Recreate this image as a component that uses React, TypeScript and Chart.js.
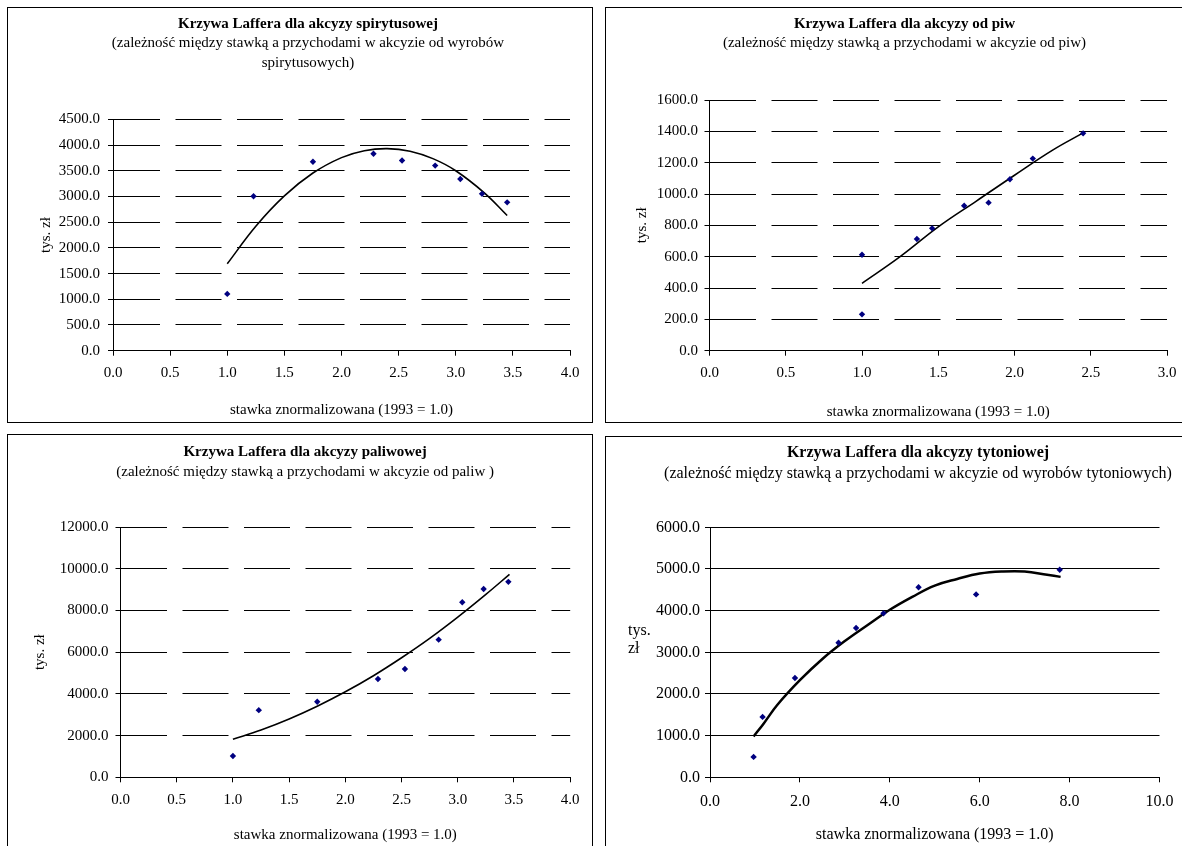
import React, { useEffect, useRef } from 'react';
import { Chart, registerables } from 'chart.js';

Chart.register(...registerables);

const FONT = "'Times New Roman', 'Liberation Serif', serif";
Chart.defaults.font.family = FONT;
Chart.defaults.color = '#000';

// ---------- data ----------
const xAxisTitle = 'stawka znormalizowana (1993 = 1.0)';

// spirits excise
const spirRate = [1.0, 1.23, 1.75, 2.28, 2.53, 2.82, 3.04, 3.23, 3.45];
const spirRevenue = [1105, 3005, 3675, 3830, 3700, 3600, 3340, 3050, 2885];
const spirTrendRate = [1.0, 1.25, 1.5, 1.75, 2.0, 2.2, 2.4, 2.6, 2.8, 3.0, 3.25, 3.45];
const spirTrendRevenue = [1690, 2420, 3010, 3455, 3755, 3890, 3930, 3880, 3735, 3500, 3070, 2630];

// beer excise
const beerRate = [1.0, 1.0, 1.36, 1.46, 1.67, 1.83, 1.97, 2.12, 2.45];
const beerRevenue = [612, 232, 713, 781, 925, 945, 1094, 1226, 1387];
const beerTrendRate = [1.0, 1.25, 1.5, 1.75, 2.0, 2.25, 2.45];
const beerTrendRevenue = [430, 600, 790, 955, 1120, 1280, 1390];

// fuel excise
const fuelRate = [1.0, 1.23, 1.75, 2.29, 2.53, 2.83, 3.04, 3.23, 3.45];
const fuelRevenue = [1020, 3220, 3620, 4710, 5190, 6600, 8390, 9030, 9370];
const fuelTrendRate = [1.0, 1.25, 1.5, 1.75, 2.0, 2.25, 2.5, 2.75, 3.0, 3.25, 3.46];
const fuelTrendRevenue = [1820, 2270, 2800, 3410, 4100, 4870, 5730, 6660, 7680, 8770, 9730];

// tobacco excise
const tobRate = [0.97, 1.17, 1.89, 2.86, 3.25, 3.86, 4.64, 5.92, 7.78];
const tobRevenue = [490, 1450, 2385, 3230, 3585, 3935, 4560, 4390, 4980];
const tobTrendRate = [0.97, 1.2, 1.5, 2.0, 2.5, 3.0, 3.5, 4.0, 4.5, 5.0, 5.5, 6.0, 6.5, 7.0, 7.5, 7.8];
const tobTrendRevenue = [980, 1300, 1740, 2330, 2840, 3270, 3650, 4020, 4330, 4600, 4760, 4890, 4940, 4940, 4860, 4810];

// ---------- panel specs ----------
type Spec = {
  key: string;
  box: { left: number; top: number; width: number; height: number };
  canvas: { left: number; top: number; width: number; height: number };
  title: string;
  subtitle: string[];
  fs: number;
  xMax: number; xStep: number; yMax: number; yStep: number;
  dashed: boolean;
  px: number[]; py: number[]; tx: number[]; ty: number[];
  lineWidth: number;
  padL: number; padR: number; yw: number; rw: number; xh: number;
  titlePadTop: number; subPadTop: number; subPadBottom: number;
  xTitlePadBottom: number; xTickPad: number; yTickPad: number;
  yTitle: string | null;
  yTitleLines: string[] | null;
};

const specs: Spec[] = [
  {
    key: 'spir',
    box: { left: 7, top: 7, width: 586, height: 416 },
    canvas: { left: 7, top: 7, width: 586, height: 416 },
    title: 'Krzywa Laffera dla akcyzy spirytusowej',
    subtitle: ['(zależność między stawką a przychodami w akcyzie od wyrobów', 'spirytusowych)'],
    fs: 15, xMax: 4, xStep: 0.5, yMax: 4500, yStep: 500, dashed: true,
    px: spirRate, py: spirRevenue, tx: spirTrendRate, ty: spirTrendRevenue, lineWidth: 1.6,
    padL: 39, padR: 23, yw: 67, rw: 0, xh: 72.3,
    titlePadTop: 8, subPadTop: 0, subPadBottom: 46.3,
    xTitlePadBottom: 4, xTickPad: 8.6, yTickPad: 8,
    yTitle: 'tys. zł', yTitleLines: null,
  },
  {
    key: 'beer',
    box: { left: 605, top: 7, width: 586, height: 416 },
    canvas: { left: 605, top: 7, width: 586, height: 416 },
    title: 'Krzywa Laffera dla akcyzy od piw',
    subtitle: ['(zależność między stawką a przychodami w akcyzie od piw)'],
    fs: 15, xMax: 3, xStep: 0.5, yMax: 1600, yStep: 200, dashed: true,
    px: beerRate, py: beerRevenue, tx: beerTrendRate, ty: beerTrendRevenue, lineWidth: 1.6,
    padL: 37, padR: 24, yw: 67.5, rw: 0, xh: 72.3,
    titlePadTop: 8, subPadTop: 0, subPadBottom: 47,
    xTitlePadBottom: 2.3, xTickPad: 8.6, yTickPad: 6.5,
    yTitle: 'tys. zł', yTitleLines: null,
  },
  {
    key: 'fuel',
    box: { left: 7, top: 434, width: 586, height: 430 },
    canvas: { left: 7, top: 434, width: 586, height: 412 },
    title: 'Krzywa Laffera dla akcyzy paliwowej',
    subtitle: ['(zależność między stawką a przychodami w akcyzie od paliw )'],
    fs: 15, xMax: 4, xStep: 0.5, yMax: 12000, yStep: 2000, dashed: true,
    px: fuelRate, py: fuelRevenue, tx: fuelTrendRate, ty: fuelTrendRevenue, lineWidth: 1.6,
    padL: 33, padR: 22.8, yw: 80.5, rw: 0, xh: 68.7,
    titlePadTop: 8.7, subPadTop: 1, subPadBottom: 45.3,
    xTitlePadBottom: 2, xTickPad: 8.7, yTickPad: 7,
    yTitle: 'tys. zł', yTitleLines: null,
  },
  {
    key: 'tob',
    box: { left: 605, top: 436, width: 586, height: 430 },
    canvas: { left: 605, top: 436, width: 586, height: 410 },
    title: 'Krzywa Laffera dla akcyzy tytoniowej',
    subtitle: ['(zależność między stawką a przychodami w akcyzie od wyrobów tytoniowych)'],
    fs: 16, xMax: 10, xStep: 2, yMax: 6000, yStep: 1000, dashed: false,
    px: tobRate, py: tobRevenue, tx: tobTrendRate, ty: tobTrendRevenue, lineWidth: 2.5,
    padL: 43, padR: 3, yw: 62, rw: 28.5, xh: 68.7,
    titlePadTop: 7.7, subPadTop: 1.1, subPadBottom: 43.3,
    xTitlePadBottom: 1.4, xTickPad: 9.8, yTickPad: 5,
    yTitle: null, yTitleLines: ['tys.', 'zł'],
  },
];

function ChartPanel({ spec }: { spec: Spec }) {
  const ref = useRef<HTMLCanvasElement>(null);

  useEffect(() => {
    const canvas = ref.current;
    if (!canvas) return;
    const fs = spec.fs;
    const lh = fs * 1.2;
    const fmt = (v: any) => Number(v).toFixed(1);

    const plugins: any[] = [];
    if (spec.yTitleLines) {
      const lines = spec.yTitleLines;
      plugins.push({
        id: 'flatYTitle',
        afterDraw(chart: any) {
          const { ctx, chartArea } = chart;
          ctx.save();
          ctx.font = `${fs}px ${FONT}`;
          ctx.fillStyle = '#000';
          ctx.textAlign = 'left';
          ctx.textBaseline = 'middle';
          const x = chartArea.left - 82;
          const y0 = (chartArea.top + chartArea.bottom) / 2 - 22;
          lines.forEach((t, i) => ctx.fillText(t, x, y0 + i * 18));
          ctx.restore();
        },
      });
    }

    const scales: any = {
      x: {
        type: 'linear',
        position: 'bottom',
        min: 0,
        max: spec.xMax,
        ticks: {
          stepSize: spec.xStep,
          callback: fmt,
          font: { size: fs },
          color: '#000',
          padding: spec.xTickPad,
          maxRotation: 0,
          autoSkip: false,
        },
        grid: { drawOnChartArea: false, drawTicks: true, tickLength: 5, tickColor: '#000', tickWidth: 1 },
        border: { display: true, color: '#000', width: 1 },
        title: {
          display: true,
          text: xAxisTitle,
          font: { size: fs },
          color: '#000',
          padding: { top: 0, bottom: spec.xTitlePadBottom },
        },
        afterFit: (s: any) => { s.height = spec.xh; },
      },
      y: {
        type: 'linear',
        position: 'left',
        min: 0,
        max: spec.yMax,
        ticks: {
          stepSize: spec.yStep,
          callback: fmt,
          font: { size: fs },
          color: '#000',
          padding: spec.yTickPad,
          autoSkip: false,
        },
        grid: { drawOnChartArea: true, color: '#000', lineWidth: 1, drawTicks: true, tickLength: 5, tickColor: '#000', tickWidth: 1 },
        border: { display: true, color: '#000', width: 1, dash: spec.dashed ? [46, 15.5] : [] },
        title: spec.yTitle
          ? { display: true, text: spec.yTitle, font: { size: fs }, color: '#000', padding: { top: -lh / 2, bottom: 0 } }
          : { display: false },
        afterFit: (s: any) => { s.width = spec.yw; },
      },
    };
    if (spec.rw) {
      scales.yR = {
        type: 'linear',
        position: 'right',
        display: true,
        ticks: { display: false },
        grid: { display: false, drawTicks: false },
        border: { display: false },
        afterFit: (s: any) => { s.width = spec.rw; },
      };
    }

    const chart = new Chart(canvas, {
      type: 'scatter',
      data: {
        datasets: [
          {
            label: 'dane',
            data: spec.px.map((x, i) => ({ x, y: spec.py[i] })),
            pointStyle: 'rectRot',
            pointRadius: 3.2,
            pointBorderWidth: 0,
            backgroundColor: '#000080',
            borderColor: '#000080',
            showLine: false,
            order: 0,
          },
          {
            label: 'trend',
            data: spec.tx.map((x, i) => ({ x, y: spec.ty[i] })),
            showLine: true,
            borderColor: '#000',
            borderWidth: spec.lineWidth,
            pointRadius: 0,
            tension: 0.4,
            fill: false,
            order: 1,
          } as any,
        ],
      },
      options: {
        responsive: false,
        animation: false,
        devicePixelRatio: 1,
        layout: {
          autoPadding: false,
          padding: { left: spec.padL, right: spec.padR, top: 0, bottom: 0 },
        },
        plugins: {
          legend: { display: false },
          tooltip: { enabled: false },
          title: {
            display: true,
            text: spec.title,
            color: '#000',
            font: { size: fs, weight: 'bold', lineHeight: 1.2 },
            padding: { top: spec.titlePadTop, bottom: 0 },
          },
          subtitle: {
            display: true,
            text: spec.subtitle,
            color: '#000',
            font: { size: fs, weight: 'normal', lineHeight: '20px' },
            padding: { top: spec.subPadTop, bottom: spec.subPadBottom },
          },
        },
        scales,
      } as any,
      plugins,
    });
    return () => chart.destroy();
  }, [spec]);

  return (
    <>
      <div
        style={{
          position: 'absolute',
          left: spec.box.left,
          top: spec.box.top,
          width: spec.box.width,
          height: spec.box.height,
          border: '1px solid #000',
          boxSizing: 'border-box',
        }}
      />
      <canvas
        ref={ref}
        width={spec.canvas.width}
        height={spec.canvas.height}
        style={{
          position: 'absolute',
          left: spec.canvas.left,
          top: spec.canvas.top,
          width: spec.canvas.width,
          height: spec.canvas.height,
        }}
      />
    </>
  );
}

export default function App() {
  return (
    <div
      style={{
        position: 'fixed',
        left: 0,
        top: 0,
        width: 1182,
        height: 846,
        overflow: 'hidden',
        background: '#fff',
      }}
    >
      {specs.map((s) => (
        <ChartPanel key={s.key} spec={s} />
      ))}
    </div>
  );
}
